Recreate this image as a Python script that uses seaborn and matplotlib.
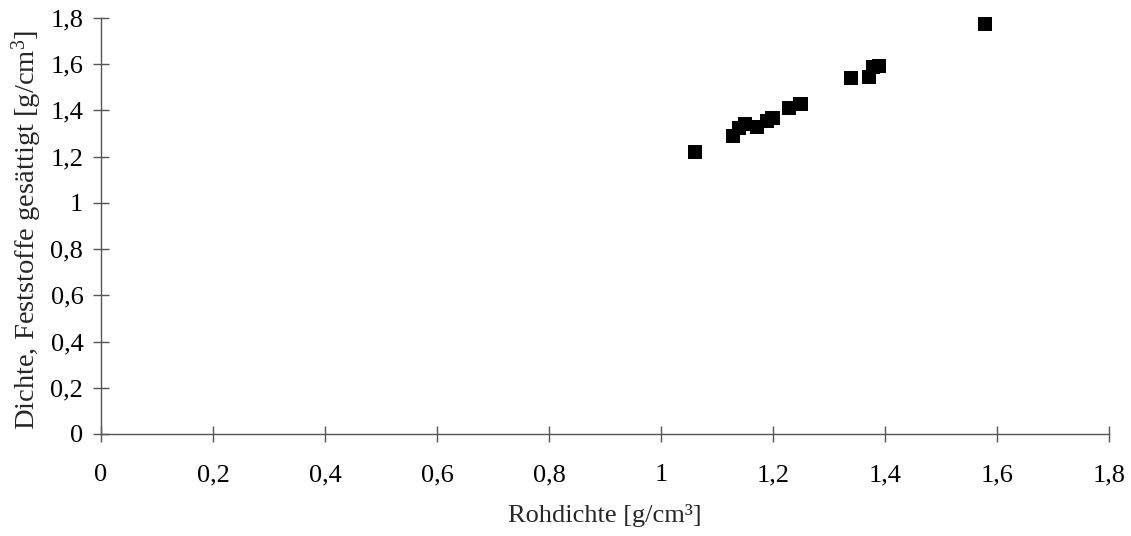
import matplotlib
matplotlib.use("Agg")
import matplotlib.pyplot as plt
import matplotlib.ticker as mticker
import numpy as np
import pandas as pd
import seaborn as sns

# Data
rohdichte = [1.061, 1.128, 1.139, 1.150, 1.171, 1.189, 1.199, 1.229, 1.249,
             1.339, 1.371, 1.379, 1.389, 1.579]
dichte_gesaettigt = [1.219, 1.288, 1.323, 1.340, 1.330, 1.356, 1.367, 1.409, 1.427,
                     1.539, 1.546, 1.589, 1.591, 1.773]
ticks = [0, 0.2, 0.4, 0.6, 0.8, 1.0, 1.2, 1.4, 1.6, 1.8]

X_LABEL = "Rohdichte [g/cm³]"
Y_LABEL = "Dichte, Feststoffe gesättigt [g/cm$^3$]"
FS = 19


def comma_fmt(v, pos=None):
    return f"{v:g}".replace(".", ",")


def main():
    sns.set_style("white")
    plt.rcParams["font.family"] = ["Liberation Serif", "DejaVu Serif"]
    plt.rcParams["mathtext.fontset"] = "custom"
    plt.rcParams["mathtext.rm"] = "Liberation Serif"
    plt.rcParams["mathtext.it"] = "Liberation Serif"
    plt.rcParams["mathtext.default"] = "rm"

    df = pd.DataFrame({"x": rohdichte, "y": dichte_gesaettigt})

    fig = plt.figure(figsize=(11.31, 5.36), dpi=100)
    ax = fig.add_axes([0.0893, 0.1903, 0.8912, 0.7761])

    sns.scatterplot(data=df, x="x", y="y", marker="s", s=105, color="black",
                    edgecolor="none", ax=ax, clip_on=False, zorder=3)

    ax.set_xlim(0, 1.8)
    ax.set_ylim(0, 1.8)
    ax.set_xticks(ticks)
    ax.set_yticks(ticks)
    ax.xaxis.set_major_formatter(mticker.FuncFormatter(comma_fmt))
    ax.yaxis.set_major_formatter(mticker.FuncFormatter(comma_fmt))

    for side in ["top", "right"]:
        ax.spines[side].set_visible(False)
    for side in ["left", "bottom"]:
        ax.spines[side].set_color("#555555")
        ax.spines[side].set_linewidth(1.0)

    ax.tick_params(axis="x", bottom=True, direction="inout", length=11.5, width=1.0,
                   color="#555555", labelsize=FS, pad=16, labelcolor="black")
    ax.tick_params(axis="y", left=True, direction="inout", length=11.5, width=1.0,
                   color="#555555", labelsize=FS, pad=7, labelcolor="black")

    ax.set_xlabel(X_LABEL, fontsize=FS, labelpad=13)
    ax.set_ylabel(Y_LABEL, fontsize=20.5)
    ax.yaxis.set_label_coords(-0.057, 0.49)

    fig.savefig("out.png", dpi=100)
    plt.close(fig)


if __name__ == "__main__":
    main()
